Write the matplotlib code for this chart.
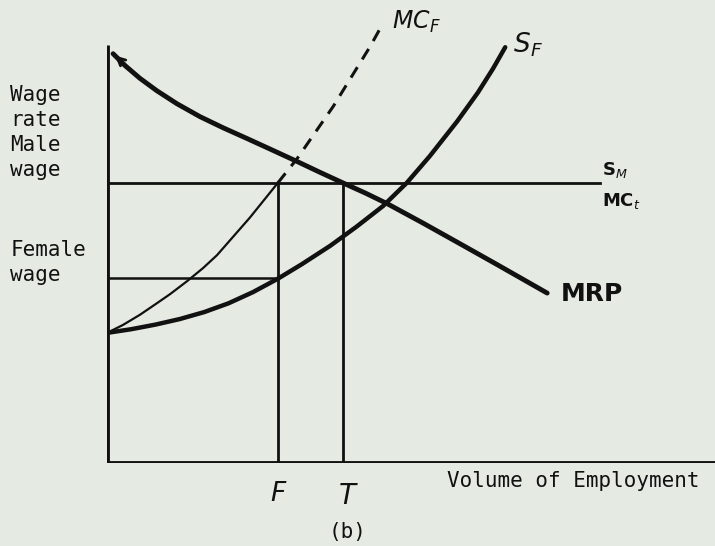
import matplotlib.pyplot as plt

# wage levels and employment levels (axis units 0-100)
male_wage = 60.5
female_wage = 40.0
emp_F = 28.1
emp_T = 38.8
y_axis_top = 90.3
male_line_end = 81.1

# supply of female labour S_F
sf_x = [0, 4, 8, 12, 16, 20, 24, 28.1, 32, 36.7, 41, 45.4, 49.3, 53.1, 57.6, 61, 63.5, 65.5]
sf_y = [28.1, 28.9, 29.9, 31.1, 32.6, 34.5, 36.9, 39.8, 42.9, 46.9, 51.0, 55.5, 60.5, 66.3, 73.8, 80.0, 85.2, 89.8]

# marginal cost of female labour MC_F (solid part, then dashed part)
mcf_x = [0, 2.6, 5.4, 8.2, 10.4, 13.2, 15.8, 18.1, 23.5, 28.1]
mcf_y = [28.1, 29.8, 32.0, 34.5, 36.5, 39.3, 42.1, 44.9, 53.0, 60.5]
mcf_dash_x = [28.1, 31.3, 37.2, 43.3, 45.2]
mcf_dash_y = [60.5, 65.8, 77.0, 90.0, 94.5]

# marginal revenue product MRP
mrp_x = [1, 3, 5.4, 8.2, 11.5, 15.3, 19.1, 23, 27, 31.3, 35, 38.8, 42.5, 46.1, 52, 58, 64.1, 72.4]
mrp_y = [88.4, 85.8, 83.1, 80.4, 77.6, 74.8, 72.4, 70.1, 67.7, 65.1, 62.8, 60.5, 58.3, 56.0, 51.8, 47.4, 42.9, 36.7]

BG = "#e5ebe3"
INK = "#111111"
MONO = "DejaVu Sans Mono"
HAND = "DejaVu Sans"

fig = plt.figure(figsize=(7.15, 5.46), dpi=100, facecolor=BG)
W, H = 715, 546
ax = fig.add_axes([107 / W, (H - 463) / H, (W - 107) / W, 463 / H])
ax.set_facecolor(BG)
ax.set_xlim(0, 100)
ax.set_ylim(0, 100)
ax.axis("off")

# axes
ax.plot([0, 0], [0, y_axis_top], color=INK, lw=3.5, solid_capstyle="butt")
ax.plot([0, 100], [0, 0], color=INK, lw=3.5, solid_capstyle="projecting")

# wage lines and employment verticals
ax.plot([0, male_line_end], [male_wage, male_wage], color=INK, lw=2)
ax.plot([0, emp_F], [female_wage, female_wage], color=INK, lw=1.8)
ax.plot([emp_F, emp_F], [0, male_wage], color=INK, lw=2)
ax.plot([emp_T, emp_T], [0, male_wage], color=INK, lw=2)

# curves
ax.plot(sf_x, sf_y, color=INK, lw=3.2, solid_capstyle="round", solid_joinstyle="round")
ax.plot(mcf_x, mcf_y, color=INK, lw=1.6, solid_joinstyle="round")
ax.plot(mcf_dash_x, mcf_dash_y, color=INK, lw=2.2, linestyle=(0, (4, 3)))
ax.plot(mrp_x, mrp_y, color=INK, lw=3.5, solid_capstyle="round", solid_joinstyle="round")
ax.annotate("", xy=(mrp_x[0], mrp_y[0]), xytext=(mrp_x[2], mrp_y[2]),
            arrowprops=dict(arrowstyle="->", color=INK, lw=2, mutation_scale=14))

# curve labels (handwritten in the original)
ax.text(46.9, 95.3, r"MC$_F$", fontsize=17, family=HAND, style="italic",
        color=INK, va="center", ha="left", clip_on=False)
ax.text(66.8, 90.3, r"S$_F$", fontsize=19, family=HAND, style="italic",
        color=INK, va="center", ha="left", clip_on=False)
ax.text(81.4, 63.2, r"S$_M$", fontsize=13, family=HAND, fontweight="bold",
        color=INK, va="center", ha="left", clip_on=False)
ax.text(81.4, 56.6, r"MC$_t$", fontsize=13, family=HAND, fontweight="bold",
        color=INK, va="center", ha="left", clip_on=False)
ax.text(74.6, 36.5, "MRP", fontsize=18, family=HAND, fontweight="bold",
        color=INK, va="center", ha="left", clip_on=False)
ax.text(emp_F, -6.8, "F", fontsize=19, family=HAND, style="italic",
        color=INK, va="center", ha="center", clip_on=False)
ax.text(39.5, -7.2, "T", fontsize=20, family=HAND, style="italic",
        color=INK, va="center", ha="center", clip_on=False)

# typed labels
ax.text(-15.9, 71.4, "Wage\nrate\nMale\nwage", fontsize=15, family=MONO,
        color=INK, va="center", ha="left", linespacing=1.3, clip_on=False)
ax.text(-15.9, 43.3, "Female\nwage", fontsize=15, family=MONO,
        color=INK, va="center", ha="left", linespacing=1.3, clip_on=False)
ax.text(55.9, -3.8, "Volume of Employment", fontsize=15, family=MONO,
        color=INK, va="center", ha="left", clip_on=False)
ax.text(39.5, -15.0, "(b)", fontsize=15, family=MONO,
        color=INK, va="center", ha="center", clip_on=False)

fig.savefig("out.png", dpi=100, facecolor=BG)
